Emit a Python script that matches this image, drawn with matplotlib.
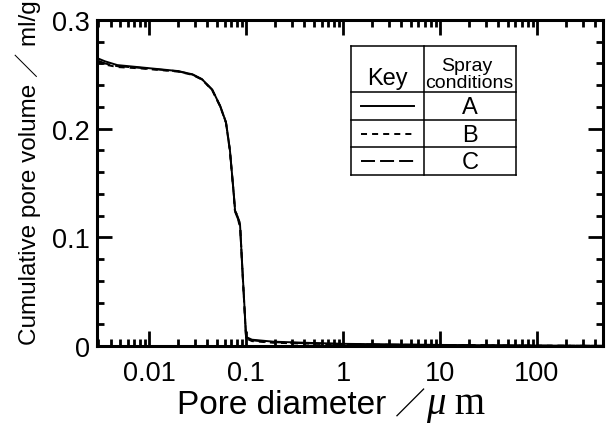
import matplotlib
matplotlib.use("Agg")
import matplotlib.pyplot as plt
from matplotlib.lines import Line2D
from matplotlib.ticker import MultipleLocator
from matplotlib.offsetbox import TextArea, HPacker, AnchoredOffsetbox

# pore diameter (um) and cumulative pore volume (ml/g)
diam_a = [0.0029, 0.0035, 0.0047, 0.008, 0.0199, 0.028, 0.035, 0.0447, 0.054, 0.062,
          0.068, 0.0740, 0.0771, 0.0820, 0.0853, 0.0867, 0.0916, 0.0960, 0.100, 0.115,
          0.19, 0.4, 1, 3, 10, 30, 100, 480]
vol_a = [0.265, 0.262, 0.2585, 0.2565, 0.253, 0.250, 0.2456, 0.236, 0.221, 0.206,
         0.181, 0.144, 0.124, 0.119, 0.114, 0.111, 0.071, 0.038, 0.0083, 0.0058,
         0.004, 0.003, 0.002, 0.0015, 0.001, 0.0007, 0.0004, 0.0002]

diam_b = [0.0029, 0.0035, 0.0047, 0.008, 0.0199, 0.028, 0.035, 0.0447, 0.054, 0.062,
          0.068, 0.0740, 0.0765, 0.0805, 0.0845, 0.0870, 0.0916, 0.0960, 0.100, 0.115,
          0.19, 0.4, 1, 3, 10, 30, 100, 480]
vol_b = [0.261, 0.259, 0.2567, 0.2555, 0.2525, 0.2495, 0.2452, 0.2355, 0.2205, 0.2055,
         0.180, 0.143, 0.125, 0.121, 0.113, 0.110, 0.070, 0.036, 0.0070, 0.0045,
         0.003, 0.0022, 0.0015, 0.001, 0.0007, 0.0005, 0.0003, 0.0001]

diam_c = [0.0029, 0.0035, 0.0047, 0.008, 0.0199, 0.028, 0.035, 0.0447, 0.054, 0.062,
          0.068, 0.0740, 0.0775, 0.0815, 0.0850, 0.0867, 0.0916, 0.0960, 0.100, 0.115,
          0.19, 0.4, 1, 3, 10, 30, 100, 480]
vol_c = [0.263, 0.260, 0.2575, 0.256, 0.2528, 0.2498, 0.2455, 0.2358, 0.2208, 0.2058,
         0.1805, 0.1435, 0.123, 0.118, 0.115, 0.1105, 0.0705, 0.037, 0.0078, 0.0052,
         0.0035, 0.0026, 0.0018, 0.0012, 0.0009, 0.0006, 0.0003, 0.0001]

xticks = [0.01, 0.1, 1, 10, 100]
xtick_labels = ["0.01", "0.1", "1", "10", "100"]
yticks = [0, 0.1, 0.2, 0.3]
ytick_labels = ["0", "0.1", "0.2", "0.3"]
conditions = ["A", "B", "C"]

SANS = ["Liberation Sans", "Noto Sans CJK JP", "DejaVu Sans"]
plt.rcParams["font.family"] = SANS

W, H = 608, 427
fig = plt.figure(figsize=(W / 100, H / 100), dpi=100)
ax = fig.add_axes([97 / W, 1 - 347 / H, (603 - 97) / W, (347 - 21) / H])

lw = 1.4
styles = ["-", (0, (3.1, 2.6)), (0, (7.2, 2.6))]
for d, v, ls in zip([diam_a, diam_b, diam_c], [vol_a, vol_b, vol_c], styles):
    ax.plot(d, v, color="black", lw=lw, linestyle=ls)

ax.set_xscale("log")
ax.set_xlim(0.0029, 480)
ax.set_ylim(0, 0.3)
ax.set_xticks(xticks, xtick_labels)
ax.set_yticks(yticks, ytick_labels)
ax.yaxis.set_minor_locator(MultipleLocator(0.02))

for s in ax.spines.values():
    s.set_linewidth(2.2)
ax.tick_params(which="both", direction="in", top=True, right=True, width=2, labelsize=19.5)
ax.tick_params(which="major", length=11)
ax.tick_params(which="minor", length=5)
ax.tick_params(axis="x", which="major", pad=10)
ax.tick_params(axis="y", which="major", pad=5)

ax.set_ylabel("Cumulative pore volume ／ ml/g", fontsize=17.5)
ax.yaxis.set_label_coords(-0.136, 0.535)
ax.yaxis.label.set_verticalalignment("center")

# x label, mixed fonts
parts = [
    TextArea("Pore diameter ", textprops=dict(family=SANS, size=24)),
    TextArea("／", textprops=dict(family=["Noto Sans CJK JP"], size=22)),
    TextArea("μ", textprops=dict(family="Liberation Serif", style="italic", size=28)),
    TextArea(" m", textprops=dict(family="Liberation Serif", size=28)),
]
box = HPacker(children=parts, pad=0, sep=0, align="baseline")
fig.add_artist(AnchoredOffsetbox(loc="center", child=box, frameon=False,
                                 bbox_to_anchor=(331 / W, 1 - 405 / H),
                                 bbox_transform=fig.transFigure, borderpad=0, pad=0))


# legend table drawn in pixel coordinates
def px(x, y):
    return x / W, 1 - y / H


def hline(x0, x1, y, **kw):
    (a, b), (c, _) = px(x0, y), px(x1, y)
    fig.add_artist(Line2D([a, c], [b, b], transform=fig.transFigure, color="black", **kw))


def vline(x, y0, y1, **kw):
    (a, b), (_, d) = px(x, y0), px(x, y1)
    fig.add_artist(Line2D([a, a], [b, d], transform=fig.transFigure, color="black", **kw))


tl, tr, col = 351, 516, 424
rows = [47, 93, 121, 148, 176]
for y in rows:
    hline(tl, tr, y, lw=1.1)
for x in (tl, col, tr):
    vline(x, rows[0], rows[-1], lw=1.1)

fig.text(*px(387, 79), "Key", fontsize=17, ha="center", va="center")
fig.text(*px(441, 67), "Spray", fontsize=14, ha="left", va="center")
fig.text(*px(469, 84), "conditions", fontsize=14, ha="center", va="center")
for i, (name, ls) in enumerate(zip(conditions, styles)):
    yc = (rows[i + 1] + rows[i + 2]) / 2
    hline(361, 414, yc, lw=lw, linestyle=ls)
    fig.text(*px(470, yc + 1), name, fontsize=17, ha="center", va="center")

fig.savefig("out.png", dpi=100)
